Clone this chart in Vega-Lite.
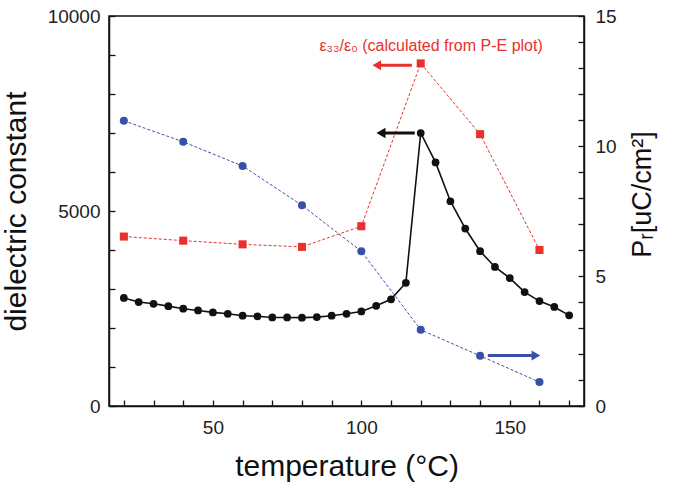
{
  "$schema": "https://vega.github.io/schema/vega-lite/v6.json",
  "description": "Dielectric constant and remanent polarisation vs temperature",
  "autosize": "none",
  "padding": {"left": 109, "top": 16, "right": 93, "bottom": 88},
  "width": 475,
  "height": 390,
  "background": "white",
  "config": {
    "view": {"stroke": "#111", "strokeWidth": 1.5},
    "font": "Liberation Sans",
    "axis": {
      "domainColor": "#111", "domainWidth": 1.5, "tickColor": "#111", "tickWidth": 1.3, "ticks": true,
      "labelFont": "Liberation Sans", "labelFontSize": 19, "labelColor": "#222",
      "titleFont": "Liberation Sans", "titleFontSize": 30, "titleFontWeight": "normal", "titleColor": "#111",
      "grid": false, "labelFlush": false, "labelOverlap": false, "zindex": 1
    }
  },
  "data": {
    "values": [
      {"series": "eps", "t": 20, "v": 2770}, {"series": "eps", "t": 25, "v": 2665},
      {"series": "eps", "t": 30, "v": 2620}, {"series": "eps", "t": 35, "v": 2560},
      {"series": "eps", "t": 40, "v": 2495}, {"series": "eps", "t": 45, "v": 2450},
      {"series": "eps", "t": 50, "v": 2400}, {"series": "eps", "t": 55, "v": 2365},
      {"series": "eps", "t": 60, "v": 2315}, {"series": "eps", "t": 65, "v": 2300},
      {"series": "eps", "t": 70, "v": 2270}, {"series": "eps", "t": 75, "v": 2270},
      {"series": "eps", "t": 80, "v": 2265}, {"series": "eps", "t": 85, "v": 2280},
      {"series": "eps", "t": 90, "v": 2315}, {"series": "eps", "t": 95, "v": 2365},
      {"series": "eps", "t": 100, "v": 2425}, {"series": "eps", "t": 105, "v": 2570},
      {"series": "eps", "t": 110, "v": 2735}, {"series": "eps", "t": 115, "v": 3160},
      {"series": "eps", "t": 120, "v": 7000}, {"series": "eps", "t": 125, "v": 6245},
      {"series": "eps", "t": 130, "v": 5250}, {"series": "eps", "t": 135, "v": 4550},
      {"series": "eps", "t": 140, "v": 3970}, {"series": "eps", "t": 145, "v": 3565},
      {"series": "eps", "t": 150, "v": 3280}, {"series": "eps", "t": 155, "v": 2920},
      {"series": "eps", "t": 160, "v": 2690}, {"series": "eps", "t": 165, "v": 2540},
      {"series": "eps", "t": 170, "v": 2325},
      {"series": "pe", "t": 20, "v": 4345}, {"series": "pe", "t": 40, "v": 4240},
      {"series": "pe", "t": 60, "v": 4145}, {"series": "pe", "t": 80, "v": 4080},
      {"series": "pe", "t": 100, "v": 4610}, {"series": "pe", "t": 120, "v": 8785},
      {"series": "pe", "t": 140, "v": 6970}, {"series": "pe", "t": 160, "v": 4000},
      {"series": "pr", "t": 20, "v": 10.97}, {"series": "pr", "t": 40, "v": 10.16},
      {"series": "pr", "t": 60, "v": 9.23}, {"series": "pr", "t": 80, "v": 7.72},
      {"series": "pr", "t": 100, "v": 5.95}, {"series": "pr", "t": 120, "v": 2.93},
      {"series": "pr", "t": 140, "v": 1.93}, {"series": "pr", "t": 160, "v": 0.92},
      {"series": "arrowRed", "part": "tip", "t": 105.2, "v": 8740},
      {"series": "arrowRed", "part": "tail", "t": 117, "v": 8740},
      {"series": "arrowBlack", "part": "tip", "t": 106.6, "v": 7000},
      {"series": "arrowBlack", "part": "tail", "t": 118, "v": 7000},
      {"series": "arrowBlue", "part": "tail", "t": 142.6, "v": 1.94},
      {"series": "arrowBlue", "part": "tip", "t": 158.8, "v": 1.94},
      {"series": "note", "t": 123.5, "v": 9230, "label": "ε₃₃/ε₀ (calculated from P-E plot)"}
    ]
  },
  "encoding": {
    "x": {
      "field": "t", "type": "quantitative",
      "scale": {"domain": [15, 175], "nice": false},
      "axis": {
        "title": "temperature (°C)", "values": [20, 30, 40, 50, 60, 70, 80, 90, 100, 110, 120, 130, 140, 150, 160, 170],
        "labelExpr": "datum.value % 50 === 0 ? datum.label : ''",
        "ticks": true, "tickSize": -6, "tickColor": "#111", "tickWidth": 1.3, "tickOpacity": 1, "zindex": 2,
        "labelPadding": 18, "titlePadding": 14
      }
    }
  },
  "layer": [
    {
      "encoding": {
        "y": {
          "field": "v", "type": "quantitative",
          "scale": {"domain": [0, 10000], "nice": false},
          "axis": {
            "title": "dielectric constant", "values": [0, 1000, 2000, 3000, 4000, 5000, 6000, 7000, 8000, 9000, 10000],
            "labelExpr": "datum.value % 5000 === 0 ? datum.value : ''",
            "ticks": true, "tickSize": -6, "tickColor": "#111", "tickWidth": 1.3, "tickOpacity": 1, "zindex": 2,
            "labelPadding": 15, "titlePadding": 16
          }
        }
      },
      "layer": [
        {
          "transform": [{"filter": "datum.series === 'eps'"}],
          "mark": {"type": "line", "color": "#111", "strokeWidth": 1.6, "point": {"filled": true, "color": "#111", "size": 60}}
        },
        {
          "transform": [{"filter": "datum.series === 'pe'"}],
          "mark": {"type": "line", "color": "#e8302c", "strokeWidth": 1, "strokeDash": [3, 2], "point": {"filled": true, "color": "#e8302c", "shape": "square", "size": 65}}
        },
        {
          "transform": [{"filter": "datum.series === 'arrowRed'"}],
          "mark": {"type": "line", "color": "#e8302c", "strokeWidth": 3}
        },
        {
          "transform": [{"filter": "datum.series === 'arrowRed' && datum.part === 'tip'"}],
          "mark": {"type": "point", "shape": "triangle-left", "filled": true, "color": "#e8302c", "size": 100, "opacity": 1}
        },
        {
          "transform": [{"filter": "datum.series === 'arrowBlack'"}],
          "mark": {"type": "line", "color": "#111", "strokeWidth": 3}
        },
        {
          "transform": [{"filter": "datum.series === 'arrowBlack' && datum.part === 'tip'"}],
          "mark": {"type": "point", "shape": "triangle-left", "filled": true, "color": "#111", "size": 110, "opacity": 1}
        },
        {
          "transform": [{"filter": "datum.series === 'note'"}],
          "mark": {"type": "text", "color": "#e8302c", "fontSize": 16, "font": "Liberation Sans"},
          "encoding": {"text": {"field": "label"}}
        }
      ]
    },
    {
      "encoding": {
        "y": {
          "field": "v", "type": "quantitative",
          "scale": {"domain": [0, 15], "nice": false},
          "axis": {
            "orient": "right", "title": "Pᵣ[uC/cm²]", "titleAngle": 270, "titleFontSize": 27,
            "values": [0, 1, 2, 3, 4, 5, 6, 7, 8, 9, 10, 11, 12, 13, 14, 15],
            "labelExpr": "datum.value % 5 === 0 ? datum.value : ''",
            "ticks": true, "tickSize": -6, "tickColor": "#111", "tickWidth": 1.3, "tickOpacity": 1, "zindex": 2,
            "labelPadding": 17, "titlePadding": 40, "titleY": 178
          }
        }
      },
      "layer": [
        {
          "transform": [{"filter": "datum.series === 'pr'"}],
          "mark": {"type": "line", "color": "#3a50a8", "strokeWidth": 1, "strokeDash": [3, 2], "point": {"filled": true, "color": "#3a50a8", "size": 65}}
        },
        {
          "transform": [{"filter": "datum.series === 'arrowBlue'"}],
          "mark": {"type": "line", "color": "#3a50a8", "strokeWidth": 3}
        },
        {
          "transform": [{"filter": "datum.series === 'arrowBlue' && datum.part === 'tip'"}],
          "mark": {"type": "point", "shape": "triangle-right", "filled": true, "color": "#3a50a8", "size": 100, "opacity": 1}
        }
      ]
    }
  ],
  "resolve": {"scale": {"y": "independent"}}
}
